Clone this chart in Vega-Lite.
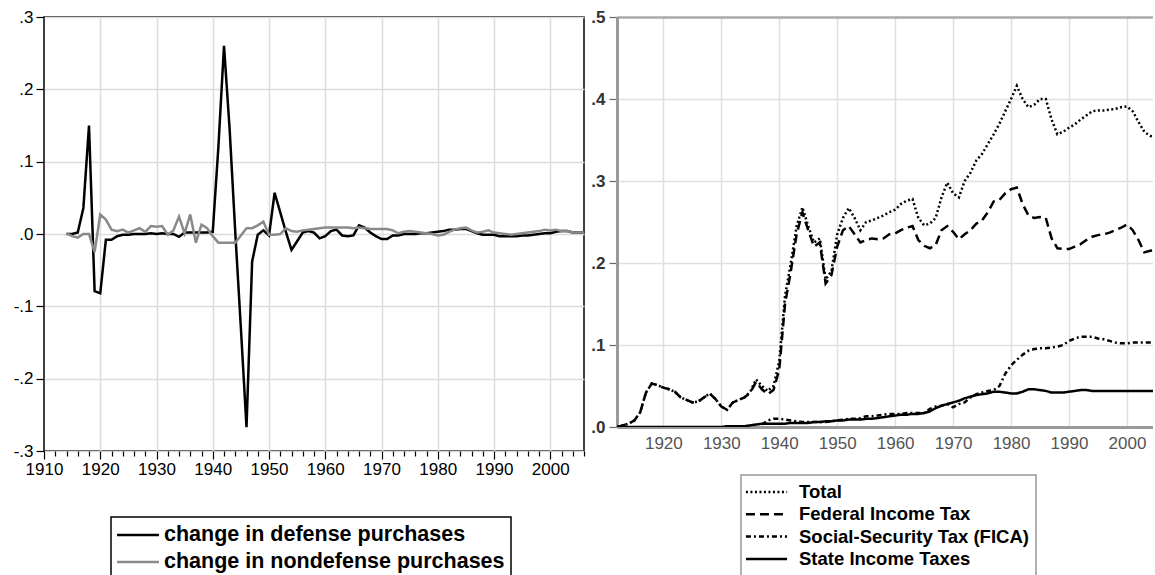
{
  "$schema": "https://vega.github.io/schema/vega-lite/v6.json",
  "padding": {"left": 12, "top": 7, "right": 0, "bottom": 0},
  "background": "white",
  "bounds": "flush",
  "spacing": 33,
  "config": {"font": "Liberation Sans", "view": {"stroke": null}, "axis": {"labelFlush": false}},
  "datasets": {
    "L": [
      {"year":1914,"series":"defense","value":0.0},{"year":1915,"series":"defense","value":0.0},{"year":1916,"series":"defense","value":0.002},{"year":1917,"series":"defense","value":0.036},{"year":1918,"series":"defense","value":0.15},{"year":1919,"series":"defense","value":-0.079},{"year":1920,"series":"defense","value":-0.082},{"year":1921,"series":"defense","value":-0.008},{"year":1922,"series":"defense","value":-0.008},{"year":1923,"series":"defense","value":-0.003},{"year":1924,"series":"defense","value":-0.001},{"year":1925,"series":"defense","value":-0.001},{"year":1926,"series":"defense","value":0.0},{"year":1927,"series":"defense","value":0.0},{"year":1928,"series":"defense","value":0.0},{"year":1929,"series":"defense","value":0.001},{"year":1930,"series":"defense","value":0.0},{"year":1931,"series":"defense","value":0.001},{"year":1932,"series":"defense","value":0.0},{"year":1933,"series":"defense","value":0.0},{"year":1934,"series":"defense","value":-0.004},{"year":1935,"series":"defense","value":0.002},{"year":1936,"series":"defense","value":0.002},{"year":1937,"series":"defense","value":0.002},{"year":1938,"series":"defense","value":0.002},{"year":1939,"series":"defense","value":0.002},{"year":1940,"series":"defense","value":0.003},{"year":1941,"series":"defense","value":0.12},{"year":1942,"series":"defense","value":0.26},{"year":1943,"series":"defense","value":0.145},{"year":1944,"series":"defense","value":0.003},{"year":1945,"series":"defense","value":-0.13},{"year":1946,"series":"defense","value":-0.267},{"year":1947,"series":"defense","value":-0.038},{"year":1948,"series":"defense","value":-0.001},{"year":1949,"series":"defense","value":0.005},{"year":1950,"series":"defense","value":-0.002},{"year":1951,"series":"defense","value":0.057},{"year":1952,"series":"defense","value":0.03},{"year":1953,"series":"defense","value":0.003},{"year":1954,"series":"defense","value":-0.022},{"year":1955,"series":"defense","value":-0.01},{"year":1956,"series":"defense","value":0.002},{"year":1957,"series":"defense","value":0.004},{"year":1958,"series":"defense","value":0.002},{"year":1959,"series":"defense","value":-0.006},{"year":1960,"series":"defense","value":-0.003},{"year":1961,"series":"defense","value":0.004},{"year":1962,"series":"defense","value":0.006},{"year":1963,"series":"defense","value":-0.002},{"year":1964,"series":"defense","value":-0.003},{"year":1965,"series":"defense","value":-0.002},{"year":1966,"series":"defense","value":0.012},{"year":1967,"series":"defense","value":0.009},{"year":1968,"series":"defense","value":0.002},{"year":1969,"series":"defense","value":-0.003},{"year":1970,"series":"defense","value":-0.007},{"year":1971,"series":"defense","value":-0.007},{"year":1972,"series":"defense","value":-0.002},{"year":1973,"series":"defense","value":-0.002},{"year":1974,"series":"defense","value":0.0},{"year":1975,"series":"defense","value":0.0},{"year":1976,"series":"defense","value":0.0},{"year":1977,"series":"defense","value":0.001},{"year":1978,"series":"defense","value":0.001},{"year":1979,"series":"defense","value":0.002},{"year":1980,"series":"defense","value":0.003},{"year":1981,"series":"defense","value":0.004},{"year":1982,"series":"defense","value":0.006},{"year":1983,"series":"defense","value":0.006},{"year":1984,"series":"defense","value":0.007},{"year":1985,"series":"defense","value":0.007},{"year":1986,"series":"defense","value":0.004},{"year":1987,"series":"defense","value":0.001},{"year":1988,"series":"defense","value":-0.001},{"year":1989,"series":"defense","value":-0.001},{"year":1990,"series":"defense","value":-0.001},{"year":1991,"series":"defense","value":-0.003},{"year":1992,"series":"defense","value":-0.003},{"year":1993,"series":"defense","value":-0.003},{"year":1994,"series":"defense","value":-0.003},{"year":1995,"series":"defense","value":-0.002},{"year":1996,"series":"defense","value":-0.002},{"year":1997,"series":"defense","value":-0.001},{"year":1998,"series":"defense","value":0.0},{"year":1999,"series":"defense","value":0.001},{"year":2000,"series":"defense","value":0.001},{"year":2001,"series":"defense","value":0.003},{"year":2002,"series":"defense","value":0.004},{"year":2003,"series":"defense","value":0.004},{"year":2004,"series":"defense","value":0.002},{"year":2005,"series":"defense","value":0.002},{"year":2006,"series":"defense","value":0.002},
      {"year":1914,"series":"nondefense","value":0.001},{"year":1915,"series":"nondefense","value":-0.003},{"year":1916,"series":"nondefense","value":-0.005},{"year":1917,"series":"nondefense","value":0.0},{"year":1918,"series":"nondefense","value":0.0},{"year":1919,"series":"nondefense","value":-0.025},{"year":1920,"series":"nondefense","value":0.027},{"year":1921,"series":"nondefense","value":0.02},{"year":1922,"series":"nondefense","value":0.006},{"year":1923,"series":"nondefense","value":0.004},{"year":1924,"series":"nondefense","value":0.006},{"year":1925,"series":"nondefense","value":0.002},{"year":1926,"series":"nondefense","value":0.005},{"year":1927,"series":"nondefense","value":0.008},{"year":1928,"series":"nondefense","value":0.003},{"year":1929,"series":"nondefense","value":0.011},{"year":1930,"series":"nondefense","value":0.01},{"year":1931,"series":"nondefense","value":0.011},{"year":1932,"series":"nondefense","value":-0.001},{"year":1933,"series":"nondefense","value":0.005},{"year":1934,"series":"nondefense","value":0.024},{"year":1935,"series":"nondefense","value":0.001},{"year":1936,"series":"nondefense","value":0.027},{"year":1937,"series":"nondefense","value":-0.012},{"year":1938,"series":"nondefense","value":0.013},{"year":1939,"series":"nondefense","value":0.008},{"year":1940,"series":"nondefense","value":-0.003},{"year":1941,"series":"nondefense","value":-0.012},{"year":1942,"series":"nondefense","value":-0.012},{"year":1943,"series":"nondefense","value":-0.012},{"year":1944,"series":"nondefense","value":-0.012},{"year":1945,"series":"nondefense","value":-0.002},{"year":1946,"series":"nondefense","value":0.008},{"year":1947,"series":"nondefense","value":0.008},{"year":1948,"series":"nondefense","value":0.012},{"year":1949,"series":"nondefense","value":0.017},{"year":1950,"series":"nondefense","value":-0.001},{"year":1951,"series":"nondefense","value":-0.001},{"year":1952,"series":"nondefense","value":0.0},{"year":1953,"series":"nondefense","value":0.008},{"year":1954,"series":"nondefense","value":0.004},{"year":1955,"series":"nondefense","value":0.003},{"year":1956,"series":"nondefense","value":0.005},{"year":1957,"series":"nondefense","value":0.006},{"year":1958,"series":"nondefense","value":0.007},{"year":1959,"series":"nondefense","value":0.008},{"year":1960,"series":"nondefense","value":0.009},{"year":1961,"series":"nondefense","value":0.009},{"year":1962,"series":"nondefense","value":0.009},{"year":1963,"series":"nondefense","value":0.009},{"year":1964,"series":"nondefense","value":0.009},{"year":1965,"series":"nondefense","value":0.008},{"year":1966,"series":"nondefense","value":0.009},{"year":1967,"series":"nondefense","value":0.008},{"year":1968,"series":"nondefense","value":0.007},{"year":1969,"series":"nondefense","value":0.007},{"year":1970,"series":"nondefense","value":0.007},{"year":1971,"series":"nondefense","value":0.007},{"year":1972,"series":"nondefense","value":0.005},{"year":1973,"series":"nondefense","value":0.001},{"year":1974,"series":"nondefense","value":0.003},{"year":1975,"series":"nondefense","value":0.004},{"year":1976,"series":"nondefense","value":0.003},{"year":1977,"series":"nondefense","value":0.002},{"year":1978,"series":"nondefense","value":0.001},{"year":1979,"series":"nondefense","value":0.0},{"year":1980,"series":"nondefense","value":-0.002},{"year":1981,"series":"nondefense","value":-0.001},{"year":1982,"series":"nondefense","value":0.003},{"year":1983,"series":"nondefense","value":0.006},{"year":1984,"series":"nondefense","value":0.008},{"year":1985,"series":"nondefense","value":0.009},{"year":1986,"series":"nondefense","value":0.005},{"year":1987,"series":"nondefense","value":0.002},{"year":1988,"series":"nondefense","value":0.003},{"year":1989,"series":"nondefense","value":0.005},{"year":1990,"series":"nondefense","value":0.002},{"year":1991,"series":"nondefense","value":0.001},{"year":1992,"series":"nondefense","value":0.0},{"year":1993,"series":"nondefense","value":-0.001},{"year":1994,"series":"nondefense","value":0.0},{"year":1995,"series":"nondefense","value":0.001},{"year":1996,"series":"nondefense","value":0.002},{"year":1997,"series":"nondefense","value":0.003},{"year":1998,"series":"nondefense","value":0.004},{"year":1999,"series":"nondefense","value":0.006},{"year":2000,"series":"nondefense","value":0.005},{"year":2001,"series":"nondefense","value":0.006},{"year":2002,"series":"nondefense","value":0.004},{"year":2003,"series":"nondefense","value":0.004},{"year":2004,"series":"nondefense","value":0.002},{"year":2005,"series":"nondefense","value":0.002},{"year":2006,"series":"nondefense","value":0.002}
    ],
    "R": [
      {"year":1912,"series":"Total","value":0.0},{"year":1913,"series":"Total","value":0.002},{"year":1914,"series":"Total","value":0.004},{"year":1915,"series":"Total","value":0.008},{"year":1916,"series":"Total","value":0.018},{"year":1917,"series":"Total","value":0.042},{"year":1918,"series":"Total","value":0.053},{"year":1919,"series":"Total","value":0.051},{"year":1920,"series":"Total","value":0.048},{"year":1921,"series":"Total","value":0.046},{"year":1922,"series":"Total","value":0.043},{"year":1923,"series":"Total","value":0.036},{"year":1924,"series":"Total","value":0.033},{"year":1925,"series":"Total","value":0.03},{"year":1926,"series":"Total","value":0.031},{"year":1927,"series":"Total","value":0.036},{"year":1928,"series":"Total","value":0.041},{"year":1929,"series":"Total","value":0.034},{"year":1930,"series":"Total","value":0.025},{"year":1931,"series":"Total","value":0.021},{"year":1932,"series":"Total","value":0.03},{"year":1933,"series":"Total","value":0.033},{"year":1934,"series":"Total","value":0.036},{"year":1935,"series":"Total","value":0.043},{"year":1936,"series":"Total","value":0.058},{"year":1937,"series":"Total","value":0.05},{"year":1938,"series":"Total","value":0.044},{"year":1939,"series":"Total","value":0.05},{"year":1940,"series":"Total","value":0.08},{"year":1941,"series":"Total","value":0.16},{"year":1942,"series":"Total","value":0.2},{"year":1943,"series":"Total","value":0.245},{"year":1944,"series":"Total","value":0.268},{"year":1945,"series":"Total","value":0.245},{"year":1946,"series":"Total","value":0.225},{"year":1947,"series":"Total","value":0.23},{"year":1948,"series":"Total","value":0.18},{"year":1949,"series":"Total","value":0.19},{"year":1950,"series":"Total","value":0.235},{"year":1951,"series":"Total","value":0.255},{"year":1952,"series":"Total","value":0.267},{"year":1953,"series":"Total","value":0.255},{"year":1954,"series":"Total","value":0.24},{"year":1955,"series":"Total","value":0.25},{"year":1956,"series":"Total","value":0.252},{"year":1957,"series":"Total","value":0.255},{"year":1958,"series":"Total","value":0.258},{"year":1959,"series":"Total","value":0.262},{"year":1960,"series":"Total","value":0.265},{"year":1961,"series":"Total","value":0.272},{"year":1962,"series":"Total","value":0.276},{"year":1963,"series":"Total","value":0.278},{"year":1964,"series":"Total","value":0.255},{"year":1965,"series":"Total","value":0.246},{"year":1966,"series":"Total","value":0.248},{"year":1967,"series":"Total","value":0.255},{"year":1968,"series":"Total","value":0.28},{"year":1969,"series":"Total","value":0.298},{"year":1970,"series":"Total","value":0.285},{"year":1971,"series":"Total","value":0.28},{"year":1972,"series":"Total","value":0.3},{"year":1973,"series":"Total","value":0.31},{"year":1974,"series":"Total","value":0.325},{"year":1975,"series":"Total","value":0.333},{"year":1976,"series":"Total","value":0.345},{"year":1977,"series":"Total","value":0.357},{"year":1978,"series":"Total","value":0.37},{"year":1979,"series":"Total","value":0.385},{"year":1980,"series":"Total","value":0.4},{"year":1981,"series":"Total","value":0.416},{"year":1982,"series":"Total","value":0.4},{"year":1983,"series":"Total","value":0.39},{"year":1984,"series":"Total","value":0.393},{"year":1985,"series":"Total","value":0.4},{"year":1986,"series":"Total","value":0.4},{"year":1987,"series":"Total","value":0.375},{"year":1988,"series":"Total","value":0.357},{"year":1989,"series":"Total","value":0.36},{"year":1990,"series":"Total","value":0.365},{"year":1991,"series":"Total","value":0.369},{"year":1992,"series":"Total","value":0.375},{"year":1993,"series":"Total","value":0.38},{"year":1994,"series":"Total","value":0.385},{"year":1995,"series":"Total","value":0.386},{"year":1996,"series":"Total","value":0.386},{"year":1997,"series":"Total","value":0.387},{"year":1998,"series":"Total","value":0.388},{"year":1999,"series":"Total","value":0.39},{"year":2000,"series":"Total","value":0.391},{"year":2001,"series":"Total","value":0.385},{"year":2002,"series":"Total","value":0.372},{"year":2003,"series":"Total","value":0.36},{"year":2004,"series":"Total","value":0.355},{"year":2005,"series":"Total","value":0.354},
      {"year":1912,"series":"Federal Income Tax","value":0.0},{"year":1913,"series":"Federal Income Tax","value":0.002},{"year":1914,"series":"Federal Income Tax","value":0.004},{"year":1915,"series":"Federal Income Tax","value":0.008},{"year":1916,"series":"Federal Income Tax","value":0.018},{"year":1917,"series":"Federal Income Tax","value":0.042},{"year":1918,"series":"Federal Income Tax","value":0.053},{"year":1919,"series":"Federal Income Tax","value":0.051},{"year":1920,"series":"Federal Income Tax","value":0.048},{"year":1921,"series":"Federal Income Tax","value":0.046},{"year":1922,"series":"Federal Income Tax","value":0.043},{"year":1923,"series":"Federal Income Tax","value":0.036},{"year":1924,"series":"Federal Income Tax","value":0.033},{"year":1925,"series":"Federal Income Tax","value":0.03},{"year":1926,"series":"Federal Income Tax","value":0.031},{"year":1927,"series":"Federal Income Tax","value":0.036},{"year":1928,"series":"Federal Income Tax","value":0.041},{"year":1929,"series":"Federal Income Tax","value":0.034},{"year":1930,"series":"Federal Income Tax","value":0.025},{"year":1931,"series":"Federal Income Tax","value":0.021},{"year":1932,"series":"Federal Income Tax","value":0.03},{"year":1933,"series":"Federal Income Tax","value":0.033},{"year":1934,"series":"Federal Income Tax","value":0.036},{"year":1935,"series":"Federal Income Tax","value":0.042},{"year":1936,"series":"Federal Income Tax","value":0.055},{"year":1937,"series":"Federal Income Tax","value":0.046},{"year":1938,"series":"Federal Income Tax","value":0.04},{"year":1939,"series":"Federal Income Tax","value":0.045},{"year":1940,"series":"Federal Income Tax","value":0.07},{"year":1941,"series":"Federal Income Tax","value":0.15},{"year":1942,"series":"Federal Income Tax","value":0.19},{"year":1943,"series":"Federal Income Tax","value":0.235},{"year":1944,"series":"Federal Income Tax","value":0.262},{"year":1945,"series":"Federal Income Tax","value":0.24},{"year":1946,"series":"Federal Income Tax","value":0.22},{"year":1947,"series":"Federal Income Tax","value":0.225},{"year":1948,"series":"Federal Income Tax","value":0.175},{"year":1949,"series":"Federal Income Tax","value":0.185},{"year":1950,"series":"Federal Income Tax","value":0.22},{"year":1951,"series":"Federal Income Tax","value":0.24},{"year":1952,"series":"Federal Income Tax","value":0.245},{"year":1953,"series":"Federal Income Tax","value":0.235},{"year":1954,"series":"Federal Income Tax","value":0.225},{"year":1955,"series":"Federal Income Tax","value":0.228},{"year":1956,"series":"Federal Income Tax","value":0.23},{"year":1957,"series":"Federal Income Tax","value":0.229},{"year":1958,"series":"Federal Income Tax","value":0.23},{"year":1959,"series":"Federal Income Tax","value":0.235},{"year":1960,"series":"Federal Income Tax","value":0.236},{"year":1961,"series":"Federal Income Tax","value":0.24},{"year":1962,"series":"Federal Income Tax","value":0.243},{"year":1963,"series":"Federal Income Tax","value":0.245},{"year":1964,"series":"Federal Income Tax","value":0.228},{"year":1965,"series":"Federal Income Tax","value":0.221},{"year":1966,"series":"Federal Income Tax","value":0.218},{"year":1967,"series":"Federal Income Tax","value":0.222},{"year":1968,"series":"Federal Income Tax","value":0.24},{"year":1969,"series":"Federal Income Tax","value":0.245},{"year":1970,"series":"Federal Income Tax","value":0.238},{"year":1971,"series":"Federal Income Tax","value":0.229},{"year":1972,"series":"Federal Income Tax","value":0.235},{"year":1973,"series":"Federal Income Tax","value":0.24},{"year":1974,"series":"Federal Income Tax","value":0.248},{"year":1975,"series":"Federal Income Tax","value":0.252},{"year":1976,"series":"Federal Income Tax","value":0.262},{"year":1977,"series":"Federal Income Tax","value":0.275},{"year":1978,"series":"Federal Income Tax","value":0.277},{"year":1979,"series":"Federal Income Tax","value":0.285},{"year":1980,"series":"Federal Income Tax","value":0.29},{"year":1981,"series":"Federal Income Tax","value":0.292},{"year":1982,"series":"Federal Income Tax","value":0.272},{"year":1983,"series":"Federal Income Tax","value":0.258},{"year":1984,"series":"Federal Income Tax","value":0.255},{"year":1985,"series":"Federal Income Tax","value":0.256},{"year":1986,"series":"Federal Income Tax","value":0.255},{"year":1987,"series":"Federal Income Tax","value":0.23},{"year":1988,"series":"Federal Income Tax","value":0.218},{"year":1989,"series":"Federal Income Tax","value":0.217},{"year":1990,"series":"Federal Income Tax","value":0.217},{"year":1991,"series":"Federal Income Tax","value":0.22},{"year":1992,"series":"Federal Income Tax","value":0.223},{"year":1993,"series":"Federal Income Tax","value":0.228},{"year":1994,"series":"Federal Income Tax","value":0.232},{"year":1995,"series":"Federal Income Tax","value":0.234},{"year":1996,"series":"Federal Income Tax","value":0.235},{"year":1997,"series":"Federal Income Tax","value":0.237},{"year":1998,"series":"Federal Income Tax","value":0.24},{"year":1999,"series":"Federal Income Tax","value":0.243},{"year":2000,"series":"Federal Income Tax","value":0.247},{"year":2001,"series":"Federal Income Tax","value":0.24},{"year":2002,"series":"Federal Income Tax","value":0.228},{"year":2003,"series":"Federal Income Tax","value":0.213},{"year":2004,"series":"Federal Income Tax","value":0.215},{"year":2005,"series":"Federal Income Tax","value":0.216},
      {"year":1937,"series":"Social-Security Tax (FICA)","value":0.003},{"year":1938,"series":"Social-Security Tax (FICA)","value":0.008},{"year":1939,"series":"Social-Security Tax (FICA)","value":0.01},{"year":1940,"series":"Social-Security Tax (FICA)","value":0.01},{"year":1941,"series":"Social-Security Tax (FICA)","value":0.009},{"year":1942,"series":"Social-Security Tax (FICA)","value":0.008},{"year":1943,"series":"Social-Security Tax (FICA)","value":0.007},{"year":1944,"series":"Social-Security Tax (FICA)","value":0.006},{"year":1945,"series":"Social-Security Tax (FICA)","value":0.006},{"year":1946,"series":"Social-Security Tax (FICA)","value":0.006},{"year":1947,"series":"Social-Security Tax (FICA)","value":0.006},{"year":1948,"series":"Social-Security Tax (FICA)","value":0.006},{"year":1949,"series":"Social-Security Tax (FICA)","value":0.007},{"year":1950,"series":"Social-Security Tax (FICA)","value":0.008},{"year":1951,"series":"Social-Security Tax (FICA)","value":0.009},{"year":1952,"series":"Social-Security Tax (FICA)","value":0.01},{"year":1953,"series":"Social-Security Tax (FICA)","value":0.01},{"year":1954,"series":"Social-Security Tax (FICA)","value":0.011},{"year":1955,"series":"Social-Security Tax (FICA)","value":0.013},{"year":1956,"series":"Social-Security Tax (FICA)","value":0.013},{"year":1957,"series":"Social-Security Tax (FICA)","value":0.014},{"year":1958,"series":"Social-Security Tax (FICA)","value":0.015},{"year":1959,"series":"Social-Security Tax (FICA)","value":0.016},{"year":1960,"series":"Social-Security Tax (FICA)","value":0.016},{"year":1961,"series":"Social-Security Tax (FICA)","value":0.016},{"year":1962,"series":"Social-Security Tax (FICA)","value":0.017},{"year":1963,"series":"Social-Security Tax (FICA)","value":0.017},{"year":1964,"series":"Social-Security Tax (FICA)","value":0.017},{"year":1965,"series":"Social-Security Tax (FICA)","value":0.017},{"year":1966,"series":"Social-Security Tax (FICA)","value":0.022},{"year":1967,"series":"Social-Security Tax (FICA)","value":0.025},{"year":1968,"series":"Social-Security Tax (FICA)","value":0.026},{"year":1969,"series":"Social-Security Tax (FICA)","value":0.028},{"year":1970,"series":"Social-Security Tax (FICA)","value":0.024},{"year":1971,"series":"Social-Security Tax (FICA)","value":0.028},{"year":1972,"series":"Social-Security Tax (FICA)","value":0.03},{"year":1973,"series":"Social-Security Tax (FICA)","value":0.036},{"year":1974,"series":"Social-Security Tax (FICA)","value":0.04},{"year":1975,"series":"Social-Security Tax (FICA)","value":0.042},{"year":1976,"series":"Social-Security Tax (FICA)","value":0.044},{"year":1977,"series":"Social-Security Tax (FICA)","value":0.045},{"year":1978,"series":"Social-Security Tax (FICA)","value":0.05},{"year":1979,"series":"Social-Security Tax (FICA)","value":0.065},{"year":1980,"series":"Social-Security Tax (FICA)","value":0.075},{"year":1981,"series":"Social-Security Tax (FICA)","value":0.082},{"year":1982,"series":"Social-Security Tax (FICA)","value":0.088},{"year":1983,"series":"Social-Security Tax (FICA)","value":0.093},{"year":1984,"series":"Social-Security Tax (FICA)","value":0.095},{"year":1985,"series":"Social-Security Tax (FICA)","value":0.096},{"year":1986,"series":"Social-Security Tax (FICA)","value":0.096},{"year":1987,"series":"Social-Security Tax (FICA)","value":0.097},{"year":1988,"series":"Social-Security Tax (FICA)","value":0.098},{"year":1989,"series":"Social-Security Tax (FICA)","value":0.1},{"year":1990,"series":"Social-Security Tax (FICA)","value":0.105},{"year":1991,"series":"Social-Security Tax (FICA)","value":0.108},{"year":1992,"series":"Social-Security Tax (FICA)","value":0.11},{"year":1993,"series":"Social-Security Tax (FICA)","value":0.11},{"year":1994,"series":"Social-Security Tax (FICA)","value":0.11},{"year":1995,"series":"Social-Security Tax (FICA)","value":0.108},{"year":1996,"series":"Social-Security Tax (FICA)","value":0.107},{"year":1997,"series":"Social-Security Tax (FICA)","value":0.105},{"year":1998,"series":"Social-Security Tax (FICA)","value":0.103},{"year":1999,"series":"Social-Security Tax (FICA)","value":0.102},{"year":2000,"series":"Social-Security Tax (FICA)","value":0.102},{"year":2001,"series":"Social-Security Tax (FICA)","value":0.103},{"year":2002,"series":"Social-Security Tax (FICA)","value":0.103},{"year":2003,"series":"Social-Security Tax (FICA)","value":0.103},{"year":2004,"series":"Social-Security Tax (FICA)","value":0.103},{"year":2005,"series":"Social-Security Tax (FICA)","value":0.103},
      {"year":1912,"series":"State Income Taxes","value":0.0},{"year":1920,"series":"State Income Taxes","value":0.0},{"year":1930,"series":"State Income Taxes","value":0.0},{"year":1931,"series":"State Income Taxes","value":0.001},{"year":1932,"series":"State Income Taxes","value":0.001},{"year":1933,"series":"State Income Taxes","value":0.001},{"year":1934,"series":"State Income Taxes","value":0.001},{"year":1935,"series":"State Income Taxes","value":0.002},{"year":1936,"series":"State Income Taxes","value":0.003},{"year":1937,"series":"State Income Taxes","value":0.004},{"year":1938,"series":"State Income Taxes","value":0.004},{"year":1939,"series":"State Income Taxes","value":0.004},{"year":1940,"series":"State Income Taxes","value":0.004},{"year":1941,"series":"State Income Taxes","value":0.004},{"year":1942,"series":"State Income Taxes","value":0.005},{"year":1943,"series":"State Income Taxes","value":0.005},{"year":1944,"series":"State Income Taxes","value":0.005},{"year":1945,"series":"State Income Taxes","value":0.005},{"year":1946,"series":"State Income Taxes","value":0.006},{"year":1947,"series":"State Income Taxes","value":0.006},{"year":1948,"series":"State Income Taxes","value":0.007},{"year":1949,"series":"State Income Taxes","value":0.007},{"year":1950,"series":"State Income Taxes","value":0.008},{"year":1951,"series":"State Income Taxes","value":0.008},{"year":1952,"series":"State Income Taxes","value":0.009},{"year":1953,"series":"State Income Taxes","value":0.009},{"year":1954,"series":"State Income Taxes","value":0.009},{"year":1955,"series":"State Income Taxes","value":0.01},{"year":1956,"series":"State Income Taxes","value":0.01},{"year":1957,"series":"State Income Taxes","value":0.011},{"year":1958,"series":"State Income Taxes","value":0.012},{"year":1959,"series":"State Income Taxes","value":0.013},{"year":1960,"series":"State Income Taxes","value":0.014},{"year":1961,"series":"State Income Taxes","value":0.015},{"year":1962,"series":"State Income Taxes","value":0.015},{"year":1963,"series":"State Income Taxes","value":0.016},{"year":1964,"series":"State Income Taxes","value":0.016},{"year":1965,"series":"State Income Taxes","value":0.017},{"year":1966,"series":"State Income Taxes","value":0.019},{"year":1967,"series":"State Income Taxes","value":0.023},{"year":1968,"series":"State Income Taxes","value":0.026},{"year":1969,"series":"State Income Taxes","value":0.028},{"year":1970,"series":"State Income Taxes","value":0.03},{"year":1971,"series":"State Income Taxes","value":0.032},{"year":1972,"series":"State Income Taxes","value":0.035},{"year":1973,"series":"State Income Taxes","value":0.037},{"year":1974,"series":"State Income Taxes","value":0.039},{"year":1975,"series":"State Income Taxes","value":0.04},{"year":1976,"series":"State Income Taxes","value":0.041},{"year":1977,"series":"State Income Taxes","value":0.043},{"year":1978,"series":"State Income Taxes","value":0.043},{"year":1979,"series":"State Income Taxes","value":0.042},{"year":1980,"series":"State Income Taxes","value":0.041},{"year":1981,"series":"State Income Taxes","value":0.041},{"year":1982,"series":"State Income Taxes","value":0.043},{"year":1983,"series":"State Income Taxes","value":0.046},{"year":1984,"series":"State Income Taxes","value":0.046},{"year":1985,"series":"State Income Taxes","value":0.045},{"year":1986,"series":"State Income Taxes","value":0.044},{"year":1987,"series":"State Income Taxes","value":0.042},{"year":1988,"series":"State Income Taxes","value":0.042},{"year":1989,"series":"State Income Taxes","value":0.042},{"year":1990,"series":"State Income Taxes","value":0.043},{"year":1991,"series":"State Income Taxes","value":0.044},{"year":1992,"series":"State Income Taxes","value":0.045},{"year":1993,"series":"State Income Taxes","value":0.045},{"year":1994,"series":"State Income Taxes","value":0.044},{"year":1995,"series":"State Income Taxes","value":0.044},{"year":1996,"series":"State Income Taxes","value":0.044},{"year":1997,"series":"State Income Taxes","value":0.044},{"year":1998,"series":"State Income Taxes","value":0.044},{"year":1999,"series":"State Income Taxes","value":0.044},{"year":2000,"series":"State Income Taxes","value":0.044},{"year":2001,"series":"State Income Taxes","value":0.044},{"year":2002,"series":"State Income Taxes","value":0.044},{"year":2003,"series":"State Income Taxes","value":0.044},{"year":2004,"series":"State Income Taxes","value":0.044},{"year":2005,"series":"State Income Taxes","value":0.044}
    ]
  },
  "hconcat": [
    {
      "width": 540,
      "height": 434,
      "data": {"name": "L"},
      "view": {"stroke": "black", "strokeWidth": 1.5},
      "mark": {"type": "line", "strokeWidth": 2.5, "clip": true},
      "encoding": {
        "x": {
          "field": "year", "type": "quantitative",
          "scale": {"domain": [1910, 2006], "nice": false, "zero": false},
          "axis": {
            "title": null,
            "values": [1910,1912,1914,1916,1918,1920,1922,1924,1926,1928,1930,1932,1934,1936,1938,1940,1942,1944,1946,1948,1950,1952,1954,1956,1958,1960,1962,1964,1966,1968,1970,1972,1974,1976,1978,1980,1982,1984,1986,1988,1990,1992,1994,1996,1998,2000,2002,2004,2006],
            "labelExpr": "datum.value % 10 === 0 ? toString(datum.value) : ''",
            "labelOverlap": false,
            "labelFlush": false,
            "labelFontSize": 17,
            "labelColor": "black",
            "labelPadding": 2,
            "domain": false,
            "tickColor": "black",
            "tickWidth": 1.2,
            "tickSize": {"condition": {"test": "datum.value % 10 === 0", "value": 8}, "value": 5},
            "gridColor": "#dcdcdc",
            "gridWidth": 1.5,
            "gridOpacity": {"condition": {"test": "datum.value % 10 === 0 && datum.value > 1910", "value": 1}, "value": 0}
          }
        },
        "y": {
          "field": "value", "type": "quantitative",
          "scale": {"domain": [-0.3, 0.3], "nice": false, "zero": false},
          "axis": {
            "title": null,
            "values": [-0.3, -0.2, -0.1, 0, 0.1, 0.2, 0.3],
            "labelExpr": "(datum.value < 0 ? '-' : '') + '.' + round(abs(datum.value) * 10)",
            "labelFlush": false,
            "labelFontSize": 17,
            "labelColor": "black",
            "labelPadding": 3,
            "domain": false,
            "tickColor": "black",
            "tickWidth": 1.2,
            "tickSize": 8,
            "gridColor": "#dcdcdc",
            "gridWidth": 1.5
          }
        },
        "color": {
          "field": "series", "type": "nominal",
          "scale": {"domain": ["defense", "nondefense"], "range": ["#000000", "#8a8a8a"]},
          "legend": {
            "orient": "none",
            "legendX": 67,
            "legendY": 500,
            "title": null,
            "labelExpr": "datum.label === 'defense' ? 'change in defense purchases' : 'change in nondefense purchases'",
            "labelFontSize": 21.5,
            "labelFontWeight": "bold",
            "labelColor": "black",
            "labelLimit": 600,
            "symbolType": "M-1.95,0H1.95",
            "symbolSize": 462,
            "symbolStrokeWidth": 2.5,
            "symbolOffset": 9,
            "labelOffset": 14,
            "padding": 6,
            "rowPadding": 4,
            "strokeColor": "black",
            "fillColor": "white",
            "encode": {"legend": {"update": {"strokeWidth": {"value": 1.5}}}}
          }
        }
      }
    },
    {
      "width": 536,
      "height": 410,
      "data": {"name": "R"},
      "mark": {"type": "line", "strokeWidth": 2.5, "color": "black", "clip": true},
      "encoding": {
        "x": {
          "field": "year", "type": "quantitative",
          "scale": {"domain": [1912, 2004.5], "nice": false, "zero": false},
          "axis": {
            "title": null,
            "values": [1920, 1930, 1940, 1950, 1960, 1970, 1980, 1990, 2000],
            "labelExpr": "toString(datum.value)",
            "labelFlush": false,
            "labelFontSize": 17,
            "labelColor": "#555555",
            "labelPadding": 8,
            "ticks": false,
            "domainColor": "#9a9a9a",
            "domainWidth": 3,
            "gridColor": "#e0e0e0",
            "gridWidth": 1.5
          }
        },
        "y": {
          "field": "value", "type": "quantitative",
          "scale": {"domain": [0, 0.5], "nice": false},
          "axis": {
            "title": null,
            "values": [0, 0.1, 0.2, 0.3, 0.4, 0.5],
            "labelExpr": "'.' + round(abs(datum.value) * 10)",
            "labelFlush": false,
            "labelFontSize": 17,
            "labelFontWeight": "bold",
            "labelColor": "#333333",
            "labelPadding": 4,
            "domainColor": "#9a9a9a",
            "domainWidth": 3,
            "tickColor": "#666666",
            "tickSize": 8,
            "tickWidth": 1.2,
            "gridColor": {"condition": {"test": "datum.value > 0.45", "value": "#aaaaaa"}, "value": "#e0e0e0"},
            "gridWidth": {"condition": {"test": "datum.value > 0.45", "value": 2.5}, "value": 1.5}
          }
        },
        "strokeDash": {
          "field": "series", "type": "nominal",
          "scale": {
            "domain": ["Total", "Federal Income Tax", "Social-Security Tax (FICA)", "State Income Taxes"],
            "range": [[2, 2.5], [9, 5], [5, 3, 2, 3], [1, 0]]
          },
          "legend": {
            "orient": "none",
            "legendX": 697,
            "legendY": 458,
            "title": null,
            "labelFontSize": 18.5,
            "labelFontWeight": "bold",
            "labelColor": "black",
            "labelLimit": 600,
            "symbolType": "M-2.35,0H2.35",
            "symbolSize": 306,
            "symbolStrokeWidth": 2.5,
            "symbolStrokeColor": "black",
            "symbolOffset": 8.5,
            "labelOffset": 22.5,
            "padding": 7,
            "rowPadding": 2.3,
            "strokeColor": "#999999",
            "fillColor": "white",
            "encode": {"legend": {"update": {"strokeWidth": {"value": 1.5}}}}
          }
        }
      }
    }
  ]
}
